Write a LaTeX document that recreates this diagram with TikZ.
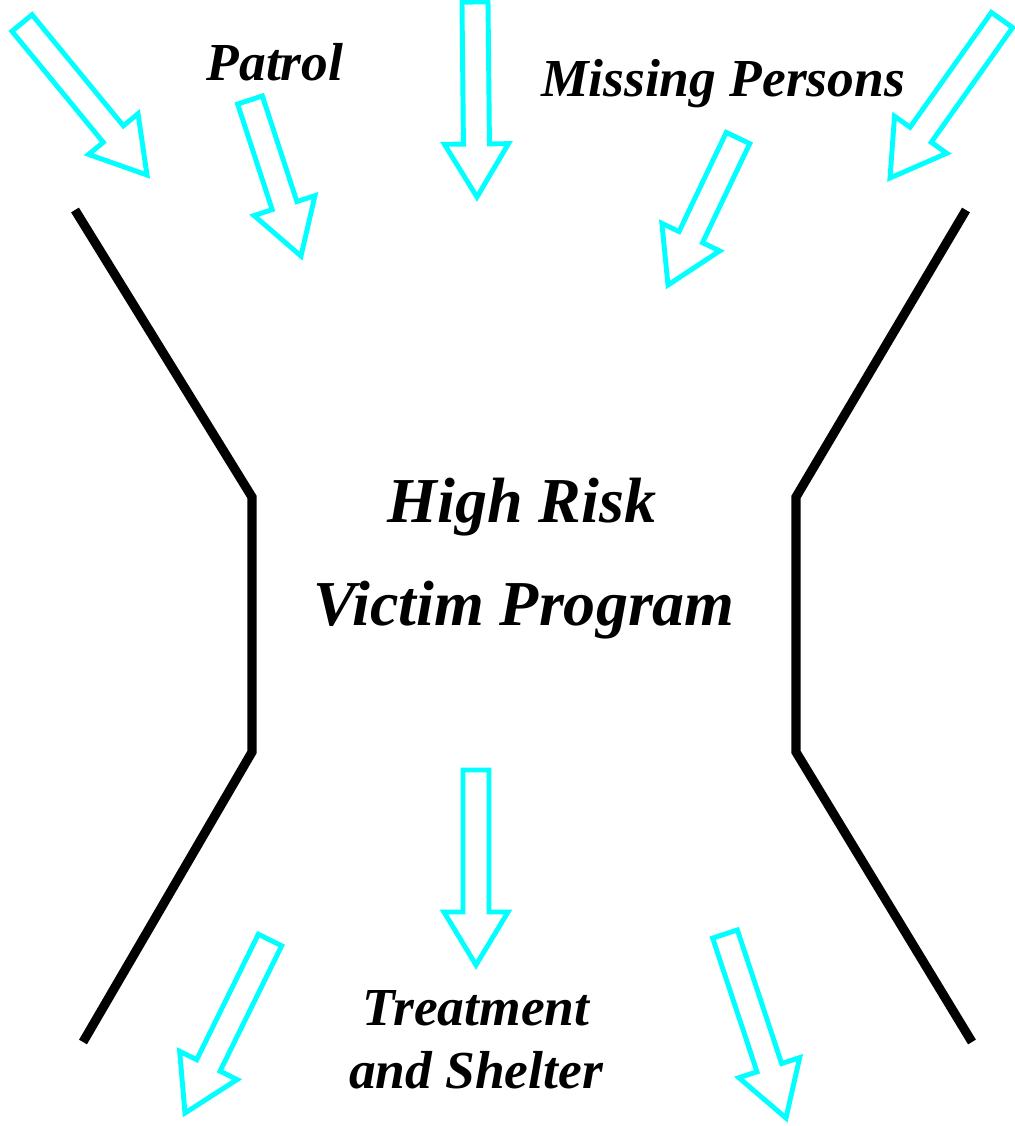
\documentclass[tikz,border=0pt]{standalone}
\usepackage{fontspec}
\setmainfont{Liberation Serif}
\usepackage{xcolor}
\usepackage{tikz}
\usetikzlibrary{calc, positioning}

\definecolor{aqua}{RGB}{0,255,255}

% hollow block arrow from a tail coordinate to a tip coordinate
\newcommand{\hollowarrow}[2]{%
	\coordinate (#2-base) at ($(#2)!0.53cm!(#1)$);
	\draw[flowarrow]
		($(#1)!0.13cm!90:(#2)$) -- ($(#2-base)!0.13cm!90:(#2)$)
		-- ($(#2-base)!0.32cm!90:(#2)$) -- (#2)
		-- ($(#2-base)!0.32cm!-90:(#2)$) -- ($(#2-base)!0.13cm!-90:(#2)$)
		-- ($(#1)!0.13cm!-90:(#2)$) -- cycle;
}

\begin{document}
\begin{tikzpicture} [
	x=0.01cm, y=-0.01cm, % one unit is one pixel of the sketch
	funnel/.style={line width=2.6pt, black}, % the walls of the funnel
	flowarrow/.style={draw=aqua, line width=1.4pt, line join=miter}, % the hollow arrows
	label/.style={font=\fontsize{15.2}{18}\selectfont\bfseries\itshape, anchor=base}, % small captions
	title/.style={font=\fontsize{18.2}{22}\selectfont\bfseries\itshape, anchor=base}, % the big caption
	]
	\useasboundingbox (0,0) rectangle (1015,1126);

	% funnel walls
	\draw[funnel] (75,210) -- (252,497) -- (252,752) -- (83,1042);
	\draw[funnel] (966,210) -- (796,497) -- (796,752) -- (972,1042);

	% captions
	\node[label] (patrol) at (275,80) {Patrol};
	\node[label] (missing) at (723,96) {Missing Persons};
	\node[title] (high) at (522,522) {High Risk};
	\node[title] (victim) at (524,625) {Victim Program};
	\node[label] (treatment) at (476,1025) {Treatment};
	\node[label] (shelter) at (476,1088) {and Shelter};

	% ends of the arrows
	\coordinate (in1) at (22,23);    \coordinate (in1 tip) at (147,175);
	\coordinate (in2) at (250,100);  \coordinate (in2 tip) at (301,256);
	\coordinate (in3) at (475,2);    \coordinate (in3 tip) at (477,197);
	\coordinate (in4) at (738,138);  \coordinate (in4 tip) at (668,285);
	\coordinate (in5) at (1002,20);  \coordinate (in5 tip) at (890,178);
	\coordinate (out1) at (476,770); \coordinate (out1 tip) at (476,965);
	\coordinate (out2) at (270,940); \coordinate (out2 tip) at (185,1113);
	\coordinate (out3) at (725,934); \coordinate (out3 tip) at (786,1118);

	\hollowarrow{in1}{in1 tip}
	\hollowarrow{in2}{in2 tip}
	\hollowarrow{in3}{in3 tip}
	\hollowarrow{in4}{in4 tip}
	\hollowarrow{in5}{in5 tip}
	\hollowarrow{out1}{out1 tip}
	\hollowarrow{out2}{out2 tip}
	\hollowarrow{out3}{out3 tip}
\end{tikzpicture}
\end{document}
